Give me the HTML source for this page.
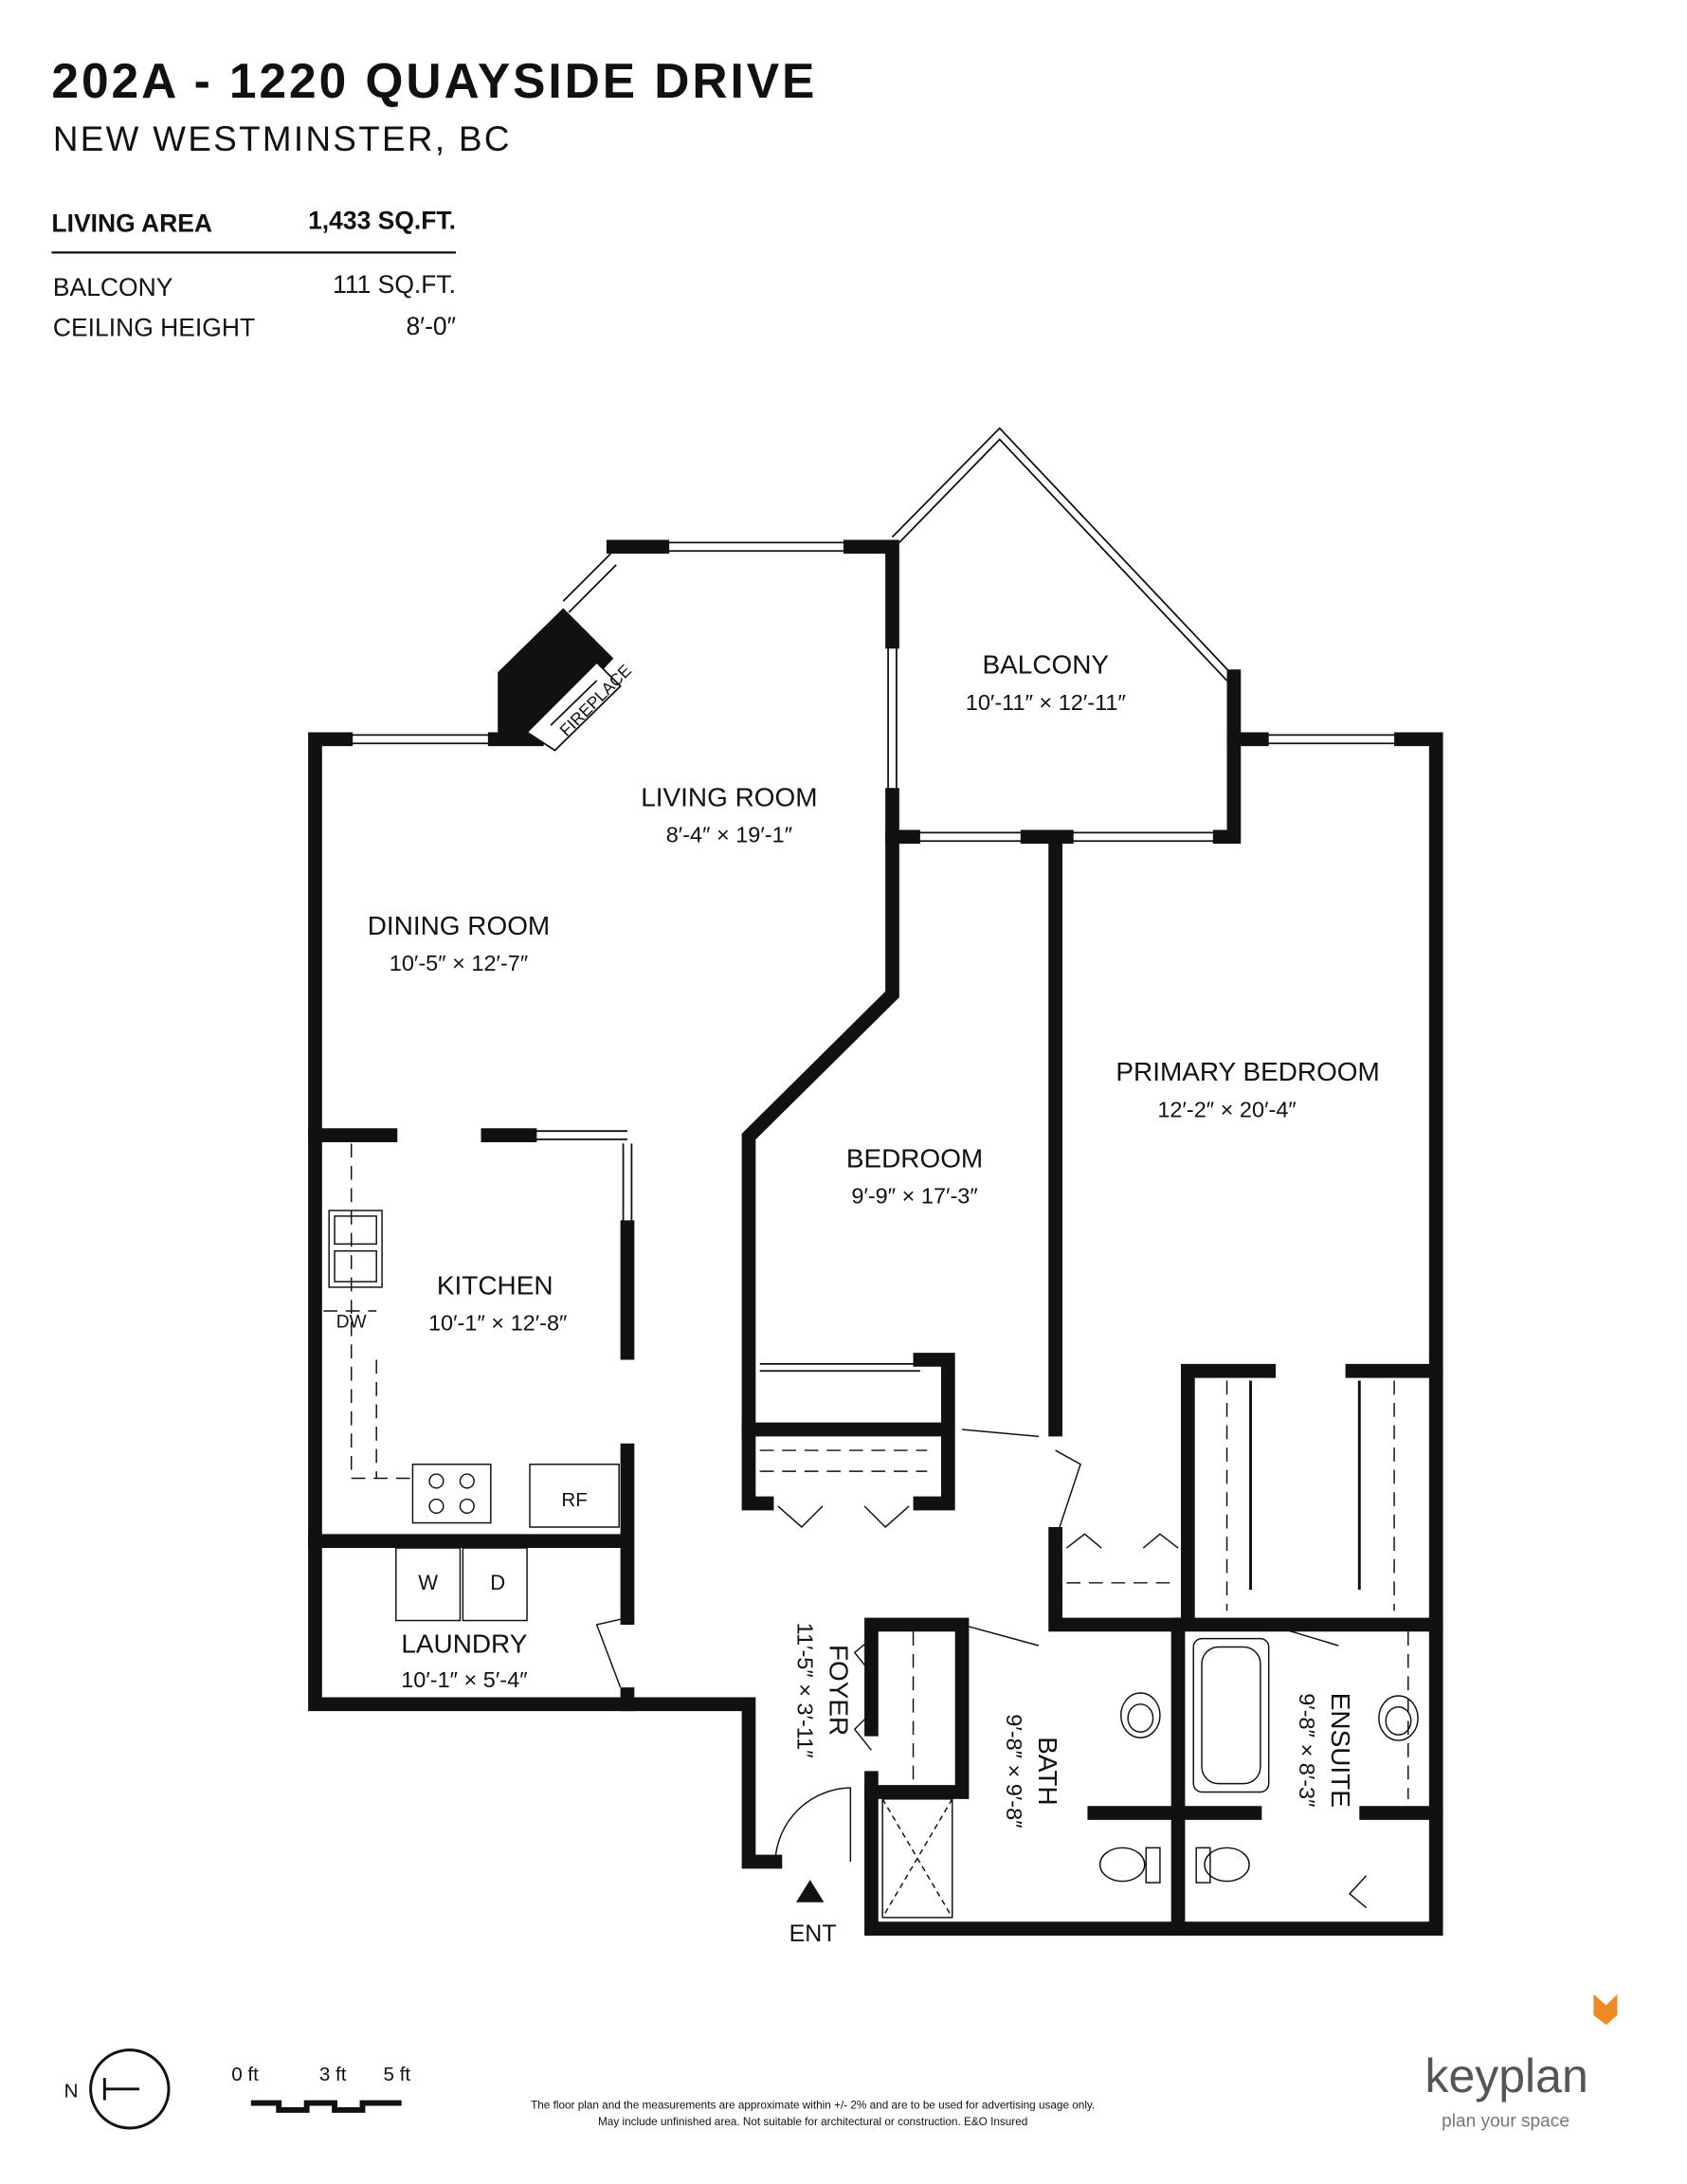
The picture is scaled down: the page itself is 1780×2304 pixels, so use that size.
<!DOCTYPE html>
<html><head><meta charset="utf-8"><style>
html,body{margin:0;padding:0;background:#fff;}
svg{display:block;}
text{font-family:"Liberation Sans",sans-serif;fill:#111;}
</style></head><body>
<svg width="1780" height="2304" viewBox="0 0 1210 1566" xmlns="http://www.w3.org/2000/svg">
<rect width="1210" height="1566" fill="#fff"/>
<!-- header -->
<text x="37" y="70" font-size="35" font-weight="bold" letter-spacing="2">202A - 1220 QUAYSIDE DRIVE</text>
<text x="38" y="108" font-size="25" letter-spacing="1.6">NEW WESTMINSTER, BC</text>
<text x="37" y="166" font-size="18" font-weight="bold">LIVING AREA</text>
<text x="327" y="164" font-size="18" font-weight="bold" text-anchor="end">1,433 SQ.FT.</text>
<line x1="37" y1="181" x2="327" y2="181" stroke="#111" stroke-width="1.5"/>
<text x="38" y="212" font-size="18">BALCONY</text>
<text x="327" y="210" font-size="18" text-anchor="end">111 SQ.FT.</text>
<text x="38" y="241" font-size="18">CEILING HEIGHT</text>
<text x="327" y="240" font-size="18" text-anchor="end">8′-0″</text>

<g stroke="#111" fill="none">
<path d="M640 385 L717 307 L885 485" stroke-width="1.2"/>
<path d="M645 389 L717 315 L880 488" stroke-width="1.2"/>
<g stroke-width="1.2">
<path d="M248 527 H355 M248 533 H355"/>
<path d="M404 431 L438 397 M408 439 L442 405"/>
<path d="M475 389 H610 M475 395 H610"/>
<path d="M637 460 V570 M643 460 V570"/>
<path d="M655 597 H737 M655 603 H737"/>
<path d="M765 597 H875 M765 603 H875"/>
<path d="M905 527 H1005 M905 533 H1005"/>
<path d="M380 811 H450 M380 817 H450"/>
<path d="M447 820 V880 M453 820 V880"/>
<path d="M545 978 H660 M545 983 H660"/>
</g>
<g stroke-width="10" stroke-linecap="square">
<path d="M226 530 H248 M226 530 V1222 H450 M450 1222 H537 V1335 H556"/>
<path d="M355 530 H385"/>
<path d="M440 392 H475 M610 392 H640 V460 M640 570 V713 L537 815 V1078 H550"/>
<path d="M640 600 H655 M737 600 H765 M875 600 H885 V485"/>
<path d="M885 530 H905 M1005 530 H1030 V1383 H625 V1275"/>
<path d="M757 600 V1025 M757 1100 V1165 H1030"/>
<path d="M625 1165 H690 M690 1165 V1285 M625 1165 V1240 M625 1285 H690"/>
<path d="M845 1165 V1383 M785 1300 H835 M855 1300 H900"/>
<path d="M980 1300 H1030"/>
<path d="M852 983 H910 M852 983 V1160 M970 983 H1030"/>
<path d="M226 814 H280 M350 814 H380 M450 880 V970"/>
<path d="M226 1105 H450 M450 1040 V1100 M450 1100 V1160 M450 1215 V1222"/>
<path d="M537 1025 H680 M680 975 V1025 M660 975 H680 M660 1078 H680 V1025"/>
</g>
<path d="M357 482 L404 436 L440 472 L387 530 L357 530 Z" fill="#111" stroke="none"/>
<path d="M378 525 L428 475 L445 492 L398 538 Z" fill="#fff" stroke-width="1.2"/>
<path d="M395 520 L428 488" stroke-width="1.2"/>
<g stroke-width="1" stroke-dasharray="10 6">
<path d="M252 820 V1060 H300 M232 940 H270 M270 975 V1060"/>
<path d="M545 1040 H665 M545 1055 H665"/>
<path d="M765 1135 H845"/>
<path d="M880 990 V1155 M1000 990 V1155"/>
<path d="M655 1170 V1280 M1010 1170 V1290"/>
</g>
<g stroke-width="1">
<rect x="236" y="868" width="38" height="55"/>
<rect x="240" y="872" width="30" height="20"/><rect x="240" y="897" width="30" height="22"/>
<rect x="296" y="1050" width="56" height="42"/>
<circle cx="313" cy="1062" r="5"/><circle cx="335" cy="1062" r="5"/><circle cx="313" cy="1080" r="5"/><circle cx="335" cy="1080" r="5"/>
<rect x="380" y="1050" width="64" height="45"/>
<rect x="284" y="1110" width="46" height="52"/><rect x="332" y="1110" width="46" height="52"/>
<rect x="856" y="1175" width="54" height="110" rx="6"/>
<rect x="862" y="1181" width="42" height="98" rx="12"/>
<rect x="633" y="1290" width="50" height="85"/>
<path d="M633 1290 L683 1375 M683 1290 L633 1375" stroke-dasharray="4 3"/>
<ellipse cx="818" cy="1230" rx="14" ry="16"/><ellipse cx="818" cy="1232" rx="9" ry="10"/>
<ellipse cx="1003" cy="1232" rx="14" ry="16"/><ellipse cx="1003" cy="1234" rx="9" ry="10"/>
<ellipse cx="805" cy="1337" rx="16" ry="12"/><rect x="822" y="1325" width="10" height="25"/>
<ellipse cx="880" cy="1337" rx="16" ry="12"/><rect x="858" y="1325" width="10" height="25"/>
<path d="M690 1025 L745 1030 M757 1040 L775 1050 L760 1095"/>
<path d="M690 1165 L745 1180 M910 1165 L960 1180"/>
<path d="M450 1160 L428 1165 L445 1210"/>
<path d="M556 1335 A55 55 0 0 1 610 1282 V1335"/>
<path d="M558 1080 L575 1095 L590 1080 M620 1080 L635 1095 L652 1080"/>
<path d="M765 1110 L778 1100 L790 1110 M820 1110 L832 1100 L845 1110"/>
<path d="M625 1200 L613 1185 L625 1175 M625 1255 L613 1240 L625 1228"/>
<path d="M980 1345 L968 1358 L980 1368"/>
<path d="M897 990 V1140 M975 990 V1140" stroke-width="2"/>
</g>
</g>
<polygon points="581,1348 571,1364 591,1364" fill="#111"/>

<g font-size="19" text-anchor="middle">
<text x="750" y="483">BALCONY</text>
<text x="750" y="509" font-size="16">10′-11″  ×  12′-11″</text>
<text x="523" y="578">LIVING ROOM</text>
<text x="523" y="604" font-size="16">8′-4″  ×  19′-1″</text>
<text x="329" y="670">DINING ROOM</text>
<text x="329" y="696" font-size="16">10′-5″  ×  12′-7″</text>
<text x="895" y="775">PRIMARY BEDROOM</text>
<text x="880" y="801" font-size="16">12′-2″  ×  20′-4″</text>
<text x="656" y="837">BEDROOM</text>
<text x="656" y="863" font-size="16">9′-9″  ×  17′-3″</text>
<text x="355" y="928">KITCHEN</text>
<text x="357" y="954" font-size="16">10′-1″  ×  12′-8″</text>
<text x="333" y="1185">LAUNDRY</text>
<text x="333" y="1210" font-size="16">10′-1″  ×  5′-4″</text>
<text x="583" y="1392" font-size="17">ENT</text>
<text x="252" y="952" font-size="13">DW</text>
<text x="412" y="1080" font-size="14">RF</text>
<text x="307" y="1140" font-size="15">W</text>
<text x="357" y="1140" font-size="15">D</text>
<text transform="translate(595,1212) rotate(90)" font-size="19">FOYER</text>
<text transform="translate(572,1212) rotate(90)" font-size="16">11′-5″ × 3′-11″</text>
<text transform="translate(745,1270) rotate(90)" font-size="19">BATH</text>
<text transform="translate(722,1270) rotate(90)" font-size="16">9′-8″ × 9′-8″</text>
<text transform="translate(955,1255) rotate(90)" font-size="19">ENSUITE</text>
<text transform="translate(932,1255) rotate(90)" font-size="16">9′-8″ × 8′-3″</text>
<text transform="translate(430,505) rotate(-45)" font-size="12">FIREPLACE</text>
</g>

<text x="46" y="1504" font-size="14">N</text>
<circle cx="93" cy="1498" r="28" fill="none" stroke="#111" stroke-width="2"/>
<line x1="75" y1="1498" x2="100" y2="1498" stroke="#111" stroke-width="2"/>
<line x1="75" y1="1490" x2="75" y2="1506" stroke="#111" stroke-width="2"/>
<text x="166" y="1492" font-size="14">0 ft</text>
<text x="229" y="1492" font-size="14">3 ft</text>
<text x="275" y="1492" font-size="14">5 ft</text>
<path d="M180 1508 H200 V1513 H220 V1508 H240 V1513 H260 V1508 H288" stroke="#111" stroke-width="4" fill="none"/>
<text x="583" y="1512" font-size="8" text-anchor="middle">The floor plan and the measurements are approximate within +/- 2% and are to be used for advertising usage only.</text>
<text x="583" y="1524" font-size="8" text-anchor="middle">May include unfinished area. Not suitable for architectural or construction. E&amp;O Insured</text>
<text x="1022" y="1500" font-size="34" style="fill:#555">keyplan</text>
<text x="1034" y="1525" font-size="13" style="fill:#777">plan your space</text>
<polygon points="1143,1430 1152,1438 1160,1430 1160,1445 1152,1452 1143,1445" fill="#f08a24"/>
</svg>
</body></html>
